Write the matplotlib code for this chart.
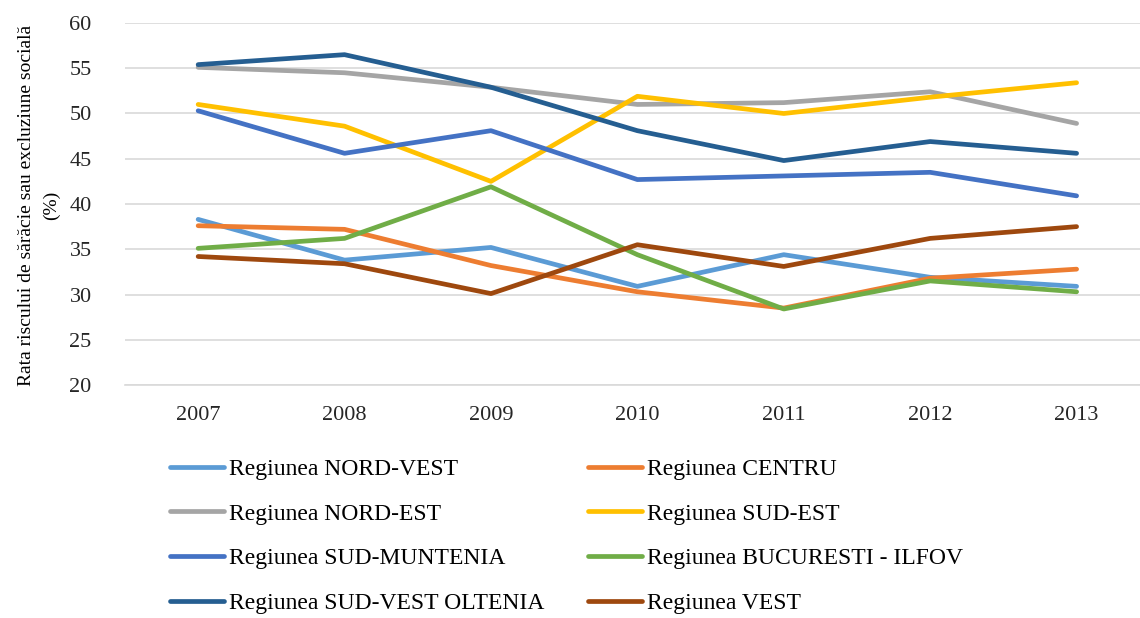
import numpy as np
import matplotlib.pyplot as plt

years = ['2007', '2008', '2009', '2010', '2011', '2012', '2013']

nord_vest = [38.3, 33.8, 35.2, 30.9, 34.4, 31.9, 30.9]
centru = [37.6, 37.2, 33.2, 30.3, 28.5, 31.8, 32.8]
nord_est = [55.1, 54.5, 52.9, 51.0, 51.2, 52.4, 48.9]
sud_est = [51.0, 48.6, 42.5, 51.9, 50.0, 51.8, 53.4]
sud_muntenia = [50.3, 45.6, 48.1, 42.7, 43.1, 43.5, 40.9]
bucuresti_ilfov = [35.1, 36.2, 41.9, 34.4, 28.4, 31.5, 30.3]
sud_vest_oltenia = [55.4, 56.5, 52.9, 48.1, 44.8, 46.9, 45.6]
vest = [34.2, 33.4, 30.1, 35.5, 33.1, 36.2, 37.5]

series = [
    ('Regiunea NORD-VEST', nord_vest, '#5B9BD5'),
    ('Regiunea CENTRU', centru, '#ED7D31'),
    ('Regiunea NORD-EST', nord_est, '#A5A5A5'),
    ('Regiunea SUD-EST', sud_est, '#FFC000'),
    ('Regiunea SUD-MUNTENIA', sud_muntenia, '#4472C4'),
    ('Regiunea BUCURESTI - ILFOV', bucuresti_ilfov, '#70AD47'),
    ('Regiunea SUD-VEST OLTENIA', sud_vest_oltenia, '#255E91'),
    ('Regiunea VEST', vest, '#9E480E'),
]

plt.rcParams['font.family'] = ['Liberation Serif', 'DejaVu Serif']

fig = plt.figure(figsize=(11.4, 6.18), dpi=100)
ax = fig.add_axes([0.1096, 0.377, 0.899, 0.5858])

x = np.arange(len(years))
lines = []
for name, vals, col in series:
    ln, = ax.plot(x, vals, color=col, lw=3.4, label=name, solid_capstyle='round')
    lines.append(ln)

ax.set_xlim(-0.5, len(years) - 0.5)
ax.set_ylim(20, 60)
ax.set_yticks(np.arange(20, 61, 5))
ax.set_xticks(x)
ax.set_xticklabels(years)
ax.grid(axis='y', color='#D9D9D9', lw=1.2)
ax.set_axisbelow(True)
for s in ['top', 'right', 'left']:
    ax.spines[s].set_visible(False)
ax.spines['bottom'].set_color('#D9D9D9')
ax.spines['bottom'].set_linewidth(1.2)
ax.tick_params(axis='both', length=0, labelsize=16, colors='#262626')
ax.tick_params(axis='y', pad=24)
ax.tick_params(axis='x', pad=15)

fig.text(0.034, 0.667, 'Rata riscului de sărăcie sau excluziune socială\n(%)',
         rotation=90, ha='center', va='center', fontsize=14, color='#000000',
         multialignment='center', linespacing=1.6)

# row-major order like the original legend
order = [0, 2, 4, 6, 1, 3, 5, 7]
fig.legend([lines[i] for i in order], [series[i][0] for i in order],
           loc='upper left', bbox_to_anchor=(0.149, 0.258), ncol=2,
           frameon=False, fontsize=17, handlelength=2.3, handletextpad=0.2,
           columnspacing=1.85, labelspacing=0.98, borderpad=0, borderaxespad=0)

plt.savefig('out.png')
